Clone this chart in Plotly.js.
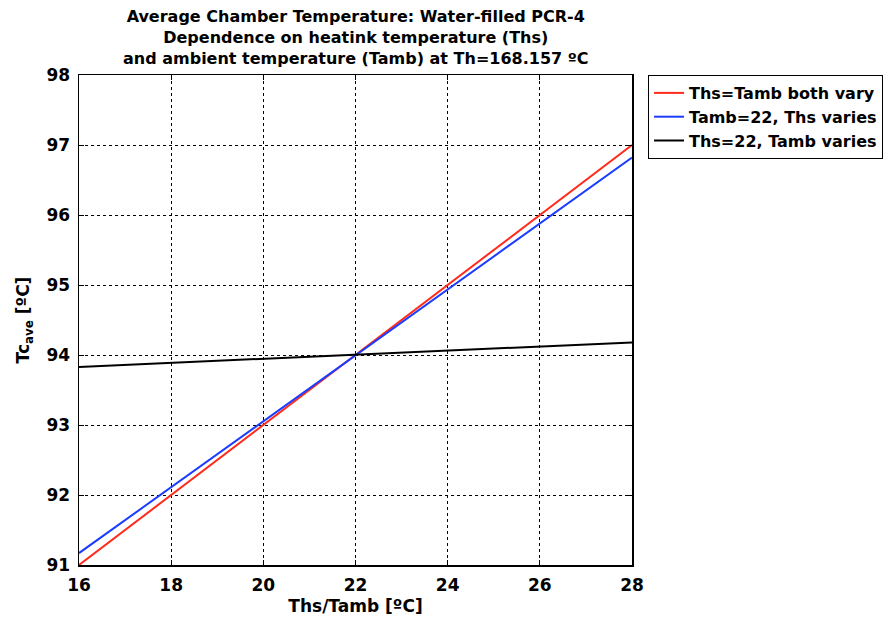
<!DOCTYPE html>
<html>
<head>
<meta charset="utf-8">
<script src="https://cdn.plot.ly/plotly-3.0.1.min.js"></script>
<style>html,body{margin:0;padding:0;background:#fff;}#chart{width:895px;height:624px;}</style>
</head>
<body>
<div id="chart"></div>
<script>
const xVals = [16, 18, 20, 22, 24, 26, 28];
const bothVary = [91.00, 92.00, 93.00, 94.00, 95.00, 96.00, 97.00];
const thsVaries = [91.17, 92.11, 93.06, 94.00, 94.94, 95.88, 96.82];
const tambVaries = [93.83, 93.89, 93.94, 94.00, 94.06, 94.12, 94.18];
const seriesNames = ["Ths=Tamb both vary", "Tamb=22, Ths varies", "Ths=22, Tamb varies"];
const xTicks = [16, 18, 20, 22, 24, 26, 28];
const yTicks = [91, 92, 93, 94, 95, 96, 97, 98];
const titleLines = [
  'Average Chamber Temperature: Water-filled PCR-4',
  'Dependence on heatink temperature (Ths)',
  'and ambient temperature (Tamb) at Th=168.157 ºC'
];

const F = "DejaVu Sans, Liberation Sans, sans-serif";
const traces = [
  {x: xVals, y: bothVary, name: seriesNames[0], mode: 'lines', line: {color: '#ff2a1a', width: 2}},
  {x: xVals, y: thsVaries, name: seriesNames[1], mode: 'lines', line: {color: '#1a3cff', width: 2}},
  {x: xVals, y: tambVaries, name: seriesNames[2], mode: 'lines', line: {color: '#000000', width: 2}}
];
const axisCommon = {
  showline: true, linecolor: '#000', linewidth: 1.5, mirror: 'ticks',
  ticks: 'inside', ticklen: 5, tickcolor: '#000',
  showgrid: true, gridcolor: '#000', griddash: 'dot', gridwidth: 1,
  zeroline: false,
  tickfont: {family: F, size: 17, color: '#000', weight: 'bold'}
};
const layout = {
  width: 895, height: 624,
  margin: {l: 79, r: 263, t: 75, b: 59, autoexpand: false},
  paper_bgcolor: '#fff', plot_bgcolor: '#fff',
  annotations: [{
    text: titleLines.join('<br>'),
    font: {family: F, size: 16, color: '#000', weight: 'bold'},
    xref: 'paper', yref: 'paper', x: 0.5, y: 1, xanchor: 'center', yanchor: 'bottom',
    yshift: 5, showarrow: false, align: 'center'
  }],
  xaxis: Object.assign({}, axisCommon, {
    range: [16, 28], tickvals: xTicks, ticktext: xTicks.map(String),
    ticklabelstandoff: 4,
    title: {text: 'Ths/Tamb [ºC]', font: {family: F, size: 17, color: '#000', weight: 'bold'}, standoff: 6}
  }),
  yaxis: Object.assign({}, axisCommon, {
    range: [91, 98], tickvals: yTicks, ticktext: yTicks.map(String),
    ticklabelstandoff: 4,
    title: {text: 'Tc<sub>ave</sub> [ºC]', font: {family: F, size: 17, color: '#000', weight: 'bold'}, standoff: 12}
  }),
  showlegend: true,
  legend: {
    x: 1.029, xanchor: 'left', y: 1, yanchor: 'top',
    bordercolor: '#000', borderwidth: 1, bgcolor: '#fff',
    font: {family: F, size: 16, color: '#000', weight: 'bold'},
    tracegroupgap: 0, itemwidth: 30
  }
};
Plotly.newPlot('chart', traces, layout, {displayModeBar: false, staticPlot: true});
</script>
</body>
</html>
